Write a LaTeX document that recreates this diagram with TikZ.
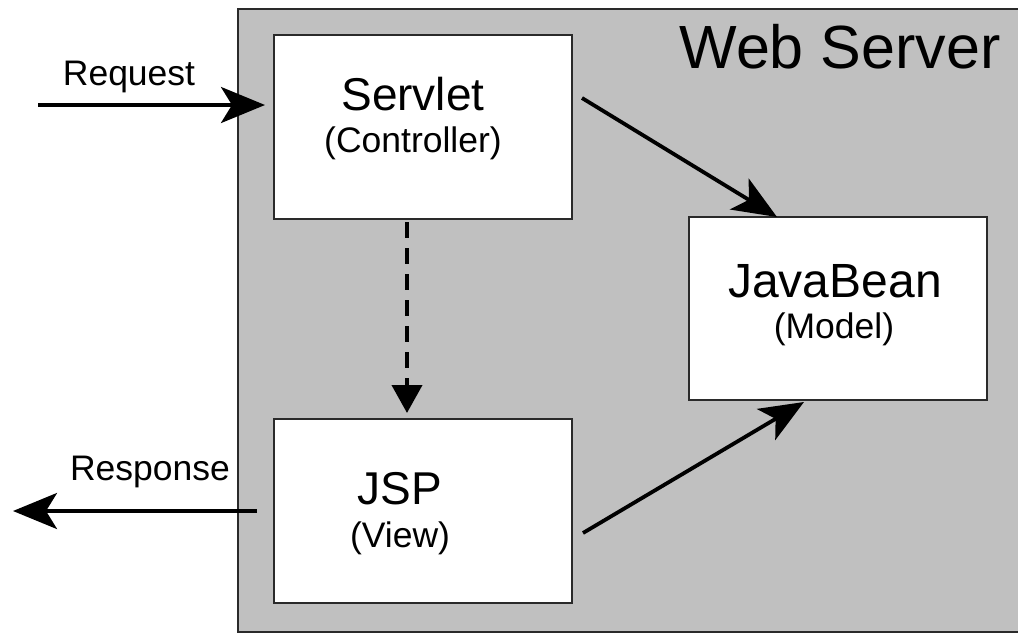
\documentclass[tikz,border=0pt]{standalone}
\usepackage{fontspec}
\setmainfont{Liberation Sans}
\usetikzlibrary{arrows.meta}
\definecolor{srvgray}{HTML}{C0C0C0}
\definecolor{edge}{HTML}{2A2A2A}
\tikzset{
  compbox/.style={draw=edge, line width=2pt, fill=white, inner sep=0pt, anchor=north west},
  bigtxt/.style={font=\fontsize{46}{52}\selectfont, anchor=base, inner sep=0pt},
  smalltxt/.style={font=\fontsize{35.5}{40}\selectfont, anchor=base, inner sep=0pt},
  titletxt/.style={font=\fontsize{61}{66}\selectfont, anchor=base, inner sep=0pt},
  flow/.style={line width=3.8pt, -{Stealth[length=44pt, width=36pt, inset=11pt]}},
  dflow/.style={line width=4pt, dash pattern=on 16pt off 10pt, -{Triangle[length=28pt, width=30pt]}}
}
\begin{document}
\begin{tikzpicture}[x=1pt, y=-1pt]
\useasboundingbox (0,0) rectangle (1018,633);
% web server area
\fill[srvgray] (238,9) rectangle (1018,632);
\draw[edge, line width=2pt] (1018,9) -- (238,9) -- (238,632) -- (1018,632);
\node[titletxt] (title) at (840,68) {Web Server};
% component boxes
\node[compbox, minimum width=298pt, minimum height=184pt] (servlet) at (273,34) {};
\node[compbox, minimum width=298pt, minimum height=184pt] (jsp) at (273,418) {};
\node[compbox, minimum width=298pt, minimum height=183pt] (bean) at (688,216) {};
% box texts
\node[bigtxt] (servletT) at (413,110) {Servlet};
\node[smalltxt] (servletS) at (413,152) {(Controller)};
\node[bigtxt] (jspT) at (400,504) {JSP};
\node[smalltxt] (jspS) at (400,547) {(View)};
\node[bigtxt, font=\fontsize{48}{52}\selectfont] (beanT) at (835,297) {JavaBean};
\node[smalltxt] (beanS) at (834,338) {(Model)};
% outside labels
\node[smalltxt] (req) at (129,85) {Request};
\node[smalltxt] (resp) at (150,480) {Response};
% connector end coordinates
\coordinate (reqS) at (38,105);
\coordinate (reqE) at (265,105);
\coordinate (respS) at (257,511);
\coordinate (respE) at (13,511);
\coordinate (s2bS) at (582,98);
\coordinate (s2bE) at (777,217);
\coordinate (j2bS) at (583,533);
\coordinate (j2bE) at (804,402);
\coordinate (dS) at (407,222);
\coordinate (dE) at (407,413);
% connectors
\draw[flow] (reqS) -- (reqE);
\draw[flow] (respS) -- (respE);
\draw[flow] (s2bS) -- (s2bE);
\draw[flow] (j2bS) -- (j2bE);
\draw[dflow] (dS) -- (dE);
\end{tikzpicture}
\end{document}
